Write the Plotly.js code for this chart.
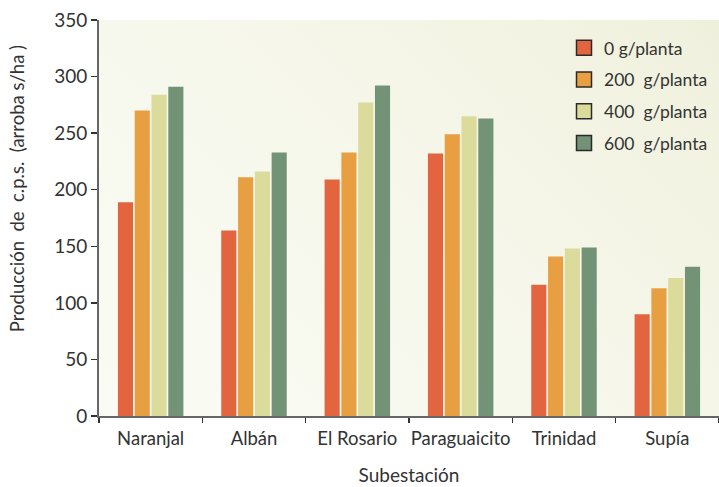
<!DOCTYPE html>
<html><head><meta charset="utf-8">
<script src="https://cdn.plot.ly/plotly-3.0.1.min.js"></script>
<style>
html,body{margin:0;padding:0;background:#fff;}
#wrap{position:relative;width:719px;height:487px;}
#bg{position:absolute;left:99px;top:20px;width:620px;height:396px;background:linear-gradient(225deg,#eff0dc 0%,#f6f7ea 45%,#fafbf4 100%);}
#chart{position:absolute;left:0;top:0;width:719px;height:487px;}
</style></head>
<body><div id="wrap"><div id="bg"></div><div id="chart"></div></div>
<script>
const categories = ["Naranjal","Albán","El Rosario","Paraguaicito","Trinidad","Supía"];
const seriesNames = ["0 g/planta","200\u00a0 g/planta","400\u00a0 g/planta","600\u00a0 g/planta"];
const dose0 = [189, 164, 209, 232, 116, 90];
const dose200 = [270, 211, 233, 249, 141, 113];
const dose400 = [284, 216, 277, 265, 148, 122];
const dose600 = [291, 233, 292, 263, 149, 132];
const colors = ["#e3653f","#e89f42","#dbdb9c","#739377"];
const allSeries = [dose0, dose200, dose400, dose600];
const yTitle = 'Producción  de  c.p.s.  (arroba s/ha )';

const traces = [];
allSeries.forEach((vals, i) => {
  traces.push({type:'bar', x:categories, y:vals, name:seriesNames[i], showlegend:false,
    marker:{color:colors[i], line:{width:0}}});
});
allSeries.forEach((vals, i) => {
  traces.push({type:'scatter', mode:'markers', x:[null], y:[null], name:seriesNames[i],
    legendgroup:'g'+i, showlegend:true,
    marker:{symbol:'square', size:15, color:colors[i], line:{color:'#2a2a2a', width:1.5}}});
});

const font = "Lato, 'Open Sans', sans-serif";
const layout = {
  width:719, height:487,
  margin:{l:99, r:0, t:20, b:71},
  paper_bgcolor:'rgba(0,0,0,0)', plot_bgcolor:'rgba(0,0,0,0)',
  barmode:'group', bargap:0.35, bargroupgap:0.1,
  font:{family:font, color:'#333', size:19},
  xaxis:{type:'category', range:[-0.5,5.5], showline:true, linecolor:'#666', linewidth:2,
    ticks:'outside', tickson:'boundaries', ticklen:5, tickcolor:'#333', tickwidth:1.5,
    ticklabelstandoff:5,
    tickangle:0, tickfont:{size:18.5, color:'#333'}, showgrid:false, zeroline:false,
    title:{text:'Subestación', font:{size:19, color:'#333'}, standoff:20}},
  yaxis:{range:[0,350], dtick:50, showline:true, linecolor:'#666', linewidth:2,
    ticks:'outside', ticklen:6, tickcolor:'#333', tickwidth:1.5,
    tickfont:{size:19, color:'#333'}, showgrid:false, zeroline:false},
  annotations:[{text:yTitle, textangle:-90, xref:'paper', yref:'paper', x:-0.132, y:0.573,
    xanchor:'center', yanchor:'middle', showarrow:false, font:{size:18.5, color:'#333'}}],
  legend:{x:0.75, y:0.975, xanchor:'left', yanchor:'top', bgcolor:'rgba(0,0,0,0)',
    font:{size:17.5, color:'#333'}, tracegroupgap:6, itemwidth:30}
};
Plotly.newPlot('chart', traces, layout, {displayModeBar:false, staticPlot:true});
</script></body></html>
